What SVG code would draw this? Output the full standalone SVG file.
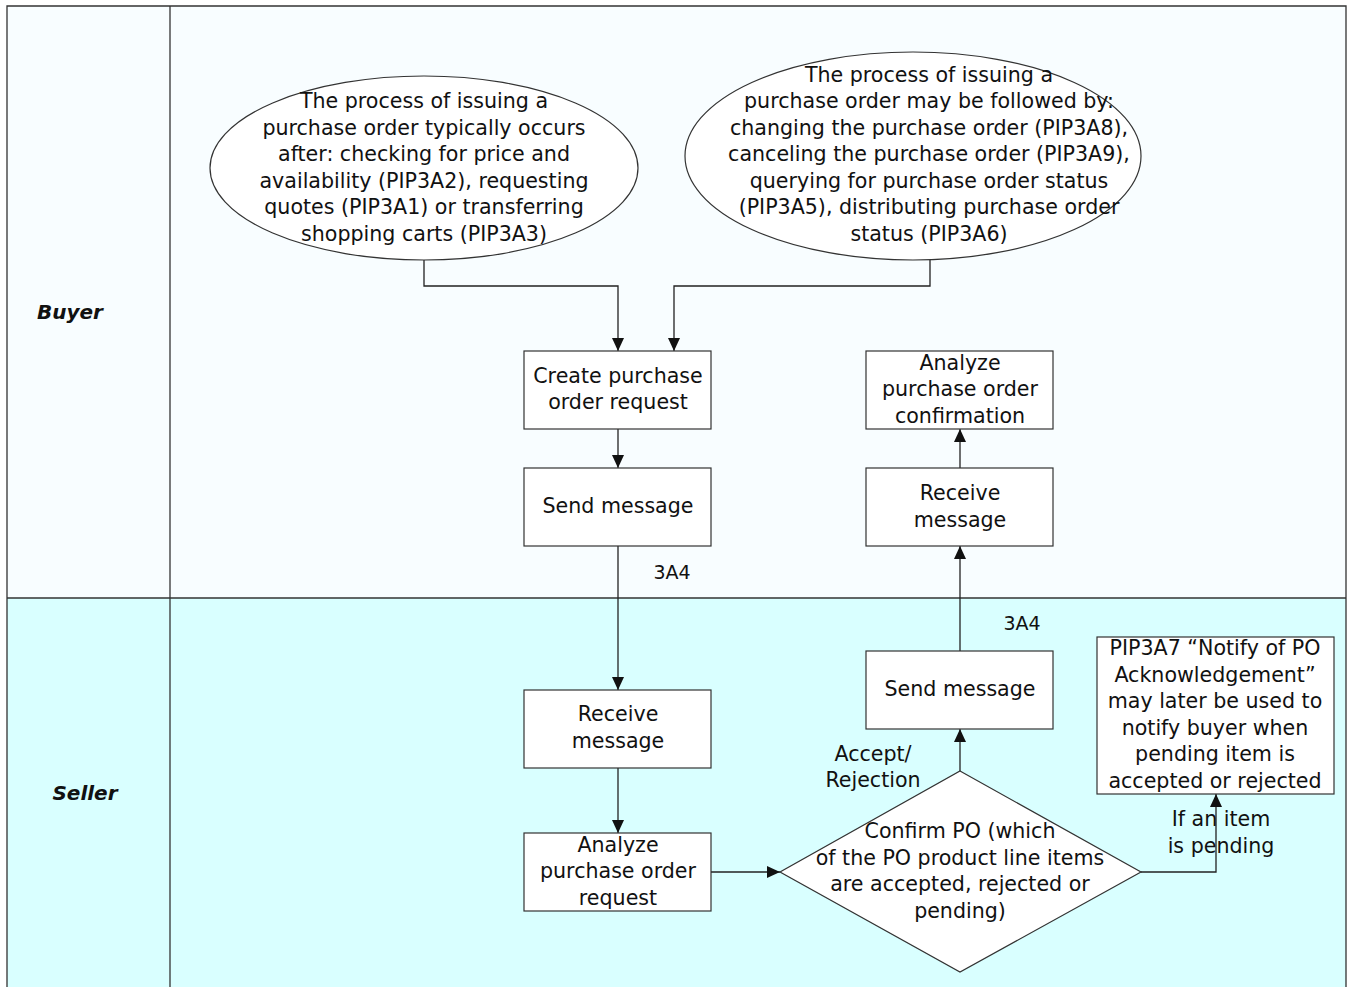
<svg xmlns="http://www.w3.org/2000/svg" width="1348" height="987" viewBox="0 0 1348 987">
<style>
text{font-family:"DejaVu Sans",Verdana,sans-serif;font-size:20.6px;fill:#111;text-anchor:middle}
.lane{font-weight:bold;font-style:italic;font-size:20px}
.lbl{font-size:19px}
.box{fill:#fff;stroke:#333;stroke-width:1.2}
.ln{fill:none;stroke:#333;stroke-width:1.3}
.conn{fill:none;stroke:#222;stroke-width:1.3;marker-end:url(#ah)}
</style>
<defs>
<marker id="ah" viewBox="0 0 13 12" refX="13" refY="6" markerWidth="13" markerHeight="12" markerUnits="userSpaceOnUse" orient="auto">
<path d="M0,0 L13,6 L0,12 Z" fill="#111"/>
</marker>
</defs>
<g id="lanes">
<rect x="7" y="6" width="1339" height="592" fill="#f8fdff"/>
<rect x="7" y="598" width="1339" height="400" fill="#d9ffff"/>
<path class="ln" d="M7,1000 V6 H1346 V1000"/>
<line class="ln" x1="170" y1="6" x2="170" y2="1000"/>
<line class="ln" x1="7" y1="598" x2="1346" y2="598"/>
<text class="lane" x="70" y="319">Buyer</text>
<text class="lane" x="85" y="800">Seller</text>
</g>
<g id="connectors">
<path class="conn" d="M424,260 V286 H618 V351"/>
<path class="conn" d="M930,260 V286 H674 V351"/>
<path class="conn" d="M618,429 V468"/>
<path class="conn" d="M618,546 V690"/>
<path class="conn" d="M618,768 V833"/>
<path class="conn" d="M711,872 H780"/>
<path class="conn" d="M960,771 V729"/>
<path class="conn" d="M960,651 V546"/>
<path class="conn" d="M960,468 V429"/>
<path class="conn" d="M1141,872 H1216 V794"/>
<text class="lbl" x="672" y="579">3A4</text>
<text class="lbl" x="1022" y="630">3A4</text>
<text x="873" y="761">Accept/</text>
<text x="873" y="787">Rejection</text>
<text x="1221" y="826">If an item</text>
<text x="1221" y="853">is pending</text>
</g>
<g id="ellipse-before">
<ellipse cx="424" cy="168" rx="214" ry="92" fill="#fff" stroke="#333" stroke-width="1.2"/>
<text x="424" y="108">The process of issuing a</text>
<text x="424" y="135">purchase order typically occurs</text>
<text x="424" y="161">after: checking for price and</text>
<text x="424" y="188">availability (PIP3A2), requesting</text>
<text x="424" y="214">quotes (PIP3A1) or transferring</text>
<text x="424" y="241">shopping carts (PIP3A3)</text>
</g>
<g id="ellipse-after">
<ellipse cx="913" cy="156" rx="228" ry="104" fill="#fff" stroke="#333" stroke-width="1.2"/>
<text x="929" y="82">The process of issuing a</text>
<text x="929" y="108">purchase order may be followed by:</text>
<text x="929" y="135">changing the purchase order (PIP3A8),</text>
<text x="929" y="161">canceling the purchase order (PIP3A9),</text>
<text x="929" y="188">querying for purchase order status</text>
<text x="929" y="214">(PIP3A5), distributing purchase order</text>
<text x="929" y="241">status (PIP3A6)</text>
</g>
<g id="create-request">
<rect class="box" x="524" y="351" width="187" height="78"/>
<text x="618" y="383">Create purchase</text>
<text x="618" y="409">order request</text>
</g>
<g id="buyer-send">
<rect class="box" x="524" y="468" width="187" height="78"/>
<text x="618" y="513">Send message</text>
</g>
<g id="analyze-confirmation">
<rect class="box" x="866" y="351" width="187" height="78"/>
<text x="960" y="370">Analyze</text>
<text x="960" y="396">purchase order</text>
<text x="960" y="423">confirmation</text>
</g>
<g id="buyer-receive">
<rect class="box" x="866" y="468" width="187" height="78"/>
<text x="960" y="500">Receive</text>
<text x="960" y="527">message</text>
</g>
<g id="seller-receive">
<rect class="box" x="524" y="690" width="187" height="78"/>
<text x="618" y="721">Receive</text>
<text x="618" y="748">message</text>
</g>
<g id="analyze-request">
<rect class="box" x="524" y="833" width="187" height="78"/>
<text x="618" y="852">Analyze</text>
<text x="618" y="878">purchase order</text>
<text x="618" y="905">request</text>
</g>
<g id="seller-send">
<rect class="box" x="866" y="651" width="187" height="78"/>
<text x="960" y="696">Send message</text>
</g>
<g id="confirm-po">
<polygon points="960,771 1141,872 960,972 780,872" fill="#fff" stroke="#333" stroke-width="1.2"/>
<text x="960" y="838">Confirm PO (which</text>
<text x="960" y="865">of the PO product line items</text>
<text x="960" y="891">are accepted, rejected or</text>
<text x="960" y="918">pending)</text>
</g>
<g id="pip3a7">
<rect class="box" x="1097" y="637" width="237" height="157"/>
<text x="1215" y="655">PIP3A7 “Notify of PO</text>
<text x="1215" y="682">Acknowledgement”</text>
<text x="1215" y="708">may later be used to</text>
<text x="1215" y="735">notify buyer when</text>
<text x="1215" y="761">pending item is</text>
<text x="1215" y="788">accepted or rejected</text>
</g>
</svg>
